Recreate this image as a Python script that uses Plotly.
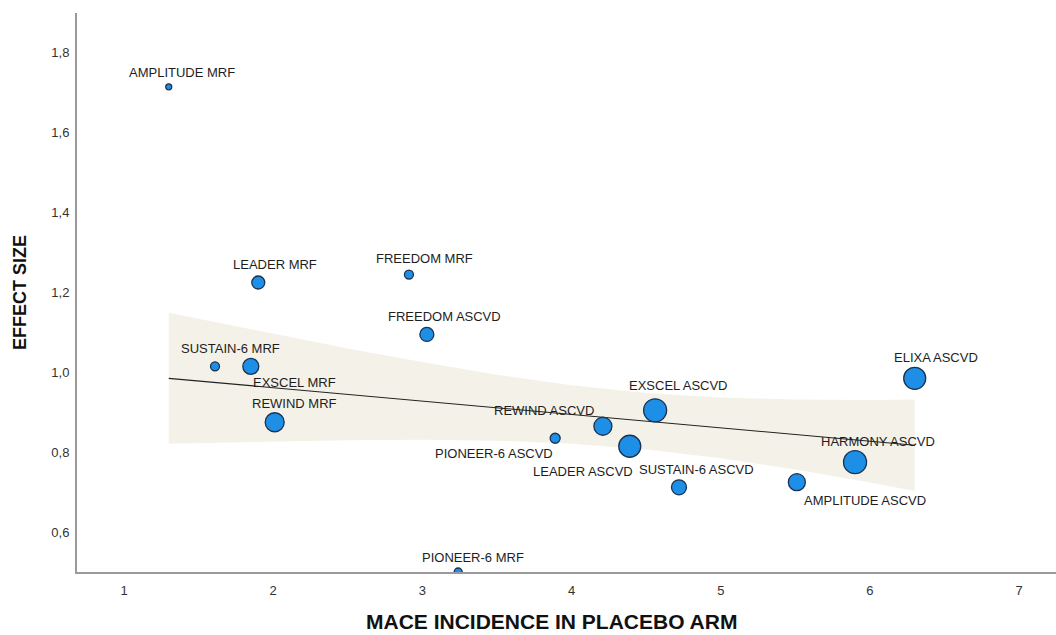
import plotly.graph_objects as go

# Trials and subgroups
studies = [
    "AMPLITUDE MRF", "LEADER MRF", "FREEDOM MRF", "FREEDOM ASCVD",
    "SUSTAIN-6 MRF", "EXSCEL MRF", "REWIND MRF", "REWIND ASCVD",
    "PIONEER-6 ASCVD", "LEADER ASCVD", "SUSTAIN-6 ASCVD", "EXSCEL ASCVD",
    "ELIXA ASCVD", "HARMONY ASCVD", "AMPLITUDE ASCVD", "PIONEER-6 MRF",
]
# MACE incidence in placebo arm
mace_incidence = [1.30, 1.90, 2.91, 3.03, 1.61, 1.85, 2.01, 4.21,
                  3.89, 4.39, 4.72, 4.56, 6.30, 5.90, 5.51, 3.24]
# Effect size (hazard ratio)
effect_size = [1.715, 1.225, 1.245, 1.095, 1.015, 1.015, 0.875, 0.865,
               0.835, 0.815, 0.712, 0.905, 0.985, 0.775, 0.725, 0.50]
# Relative study weight (bubble size)
study_weight = [6, 13, 9, 14, 9, 16, 19, 18, 10, 22, 15, 23, 22, 23, 17, 8]

# Fitted meta-regression line and its 95% confidence band
fit_x = [1.3, 6.3]
fit_y = [0.985, 0.8175]
band_x = [1.3, 2.0, 2.5, 3.0, 3.5, 4.0, 4.5, 5.0, 5.5, 6.0, 6.3]
band_upper = [1.149, 1.096, 1.060, 1.026, 0.994, 0.968, 0.948, 0.937, 0.932, 0.931, 0.932]
band_lower = [0.821, 0.827, 0.830, 0.831, 0.829, 0.821, 0.807, 0.785, 0.757, 0.724, 0.703]

x_ticks = [1, 2, 3, 4, 5, 6, 7]
y_ticks = [0.6, 0.8, 1.0, 1.2, 1.4, 1.6, 1.8]

# Label offsets in pixels (dx, dy; dy positive = up)
label_offsets = {
    "AMPLITUDE MRF": (13, 14), "LEADER MRF": (17, 18), "FREEDOM MRF": (16, 16),
    "FREEDOM ASCVD": (18, 18), "SUSTAIN-6 MRF": (15, 18), "EXSCEL MRF": (44, -16),
    "REWIND MRF": (20, 19), "REWIND ASCVD": (-59, 16), "PIONEER-6 ASCVD": (-61, -15),
    "LEADER ASCVD": (-47, -25), "SUSTAIN-6 ASCVD": (18, 18), "EXSCEL ASCVD": (23, 25),
    "ELIXA ASCVD": (21, 21), "HARMONY ASCVD": (23, 21), "AMPLITUDE ASCVD": (68, -18),
    "PIONEER-6 MRF": (15, 15),
}

FONT = "Liberation Sans, Arial, sans-serif"

fig = go.Figure()

# Confidence band
fig.add_trace(go.Scatter(
    x=band_x + band_x[::-1],
    y=band_upper + band_lower[::-1],
    fill="toself", fillcolor="#f4f2e8",
    line=dict(width=0), mode="lines", hoverinfo="skip", showlegend=False,
))

# Regression line
fig.add_trace(go.Scatter(
    x=fit_x, y=fit_y, mode="lines",
    line=dict(color="#222222", width=1.1), hoverinfo="skip", showlegend=False,
))

# Study bubbles
fig.add_trace(go.Scatter(
    x=mace_incidence, y=effect_size, mode="markers",
    marker=dict(size=study_weight, sizemode="diameter", sizeref=1, opacity=1,
                color="#1e8fe6", line=dict(color="#1b3250", width=1.3)),
    text=studies, showlegend=False,
))

for name, xv, yv in zip(studies, mace_incidence, effect_size):
    dx, dy = label_offsets[name]
    fig.add_annotation(
        x=xv, y=yv, text=name, showarrow=False,
        xshift=dx, yshift=dy, xanchor="center", yanchor="middle",
        font=dict(family=FONT, size=13, color="#1e1e1e"),
    )

# X axis title
fig.add_annotation(
    xref="paper", yref="paper", x=0.485, y=-0.0894,
    xanchor="center", yanchor="middle", showarrow=False,
    text="<b>MACE INCIDENCE IN PLACEBO ARM</b>",
    font=dict(family=FONT, size=21, color="#111111"),
)

axis_common = dict(
    showline=True, linecolor="#9a9a9a", linewidth=2, mirror=False,
    showgrid=False, zeroline=False,
    ticks="outside", tickcolor="rgba(0,0,0,0)",
    tickfont=dict(family=FONT, size=13, color="#333333"),
)

fig.update_xaxes(
    range=[0.685, 7.247], tickvals=x_ticks, ticklen=5,
    **axis_common,
)
fig.update_yaxes(
    range=[0.5, 1.9], tickvals=y_ticks, tickformat=".1f", ticklen=3,
    title=dict(text="<b>EFFECT SIZE</b>", standoff=20,
               font=dict(family=FONT, size=18, color="#111111")),
    **axis_common,
)

fig.update_layout(
    width=1056, height=635,
    margin=dict(l=77, r=0, t=13, b=63),
    plot_bgcolor="white", paper_bgcolor="white",
    separators=",.",
    font=dict(family=FONT),
)

fig.write_html("out.html")
